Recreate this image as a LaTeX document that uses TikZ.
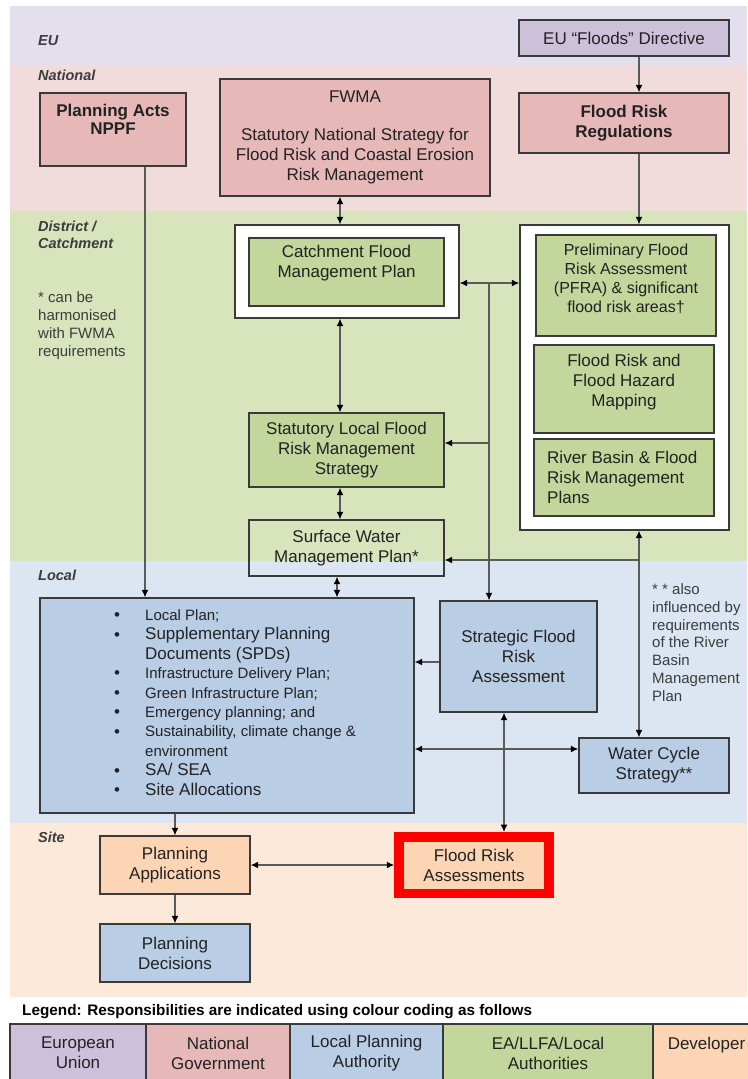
\documentclass[tikz,border=0pt]{standalone}
\usepackage{fontspec}
\setmainfont{Liberation Sans}
\usetikzlibrary{arrows.meta,calc}
\definecolor{euband}{HTML}{E4DFEC}
\definecolor{natband}{HTML}{F2DCDB}
\definecolor{distband}{HTML}{D8E4BC}
\definecolor{locband}{HTML}{DCE6F2}
\definecolor{siteband}{HTML}{FDE9D9}
\definecolor{eufill}{HTML}{CCC0DA}
\definecolor{natfill}{HTML}{E6B9B8}
\definecolor{grnfill}{HTML}{C3D69B}
\definecolor{blufill}{HTML}{B9CDE5}
\definecolor{pchfill}{HTML}{FCD5B5}
\definecolor{bordc}{HTML}{3A3A3A}
\definecolor{linec}{HTML}{5A5A5A}
\definecolor{txtc}{HTML}{222222}
\definecolor{lblc}{HTML}{3C3C3C}
\definecolor{hired}{HTML}{FF0000}
\newcommand\fmain{\fontsize{17}{20}\selectfont}
\newcommand\fpfra{\fontsize{16}{19}\selectfont}
\newcommand\fsmall{\fontsize{15}{19.45}\selectfont}
\newcommand\fbig{\fontsize{17}{19.45}\selectfont}
\newcommand\flbl{\fontsize{14.5}{16.5}\selectfont\bfseries\itshape}
\newcommand\fnote{\fontsize{15}{17.8}\selectfont}
\newcommand\bul{\makebox[31pt][l]{\raisebox{-0.3pt}{\fontsize{17}{17}\selectfont\textbullet}}}
\begin{document}
\begin{tikzpicture}[x=1pt,y=-1pt,
  box/.style={draw=bordc, line width=1.4pt, inner sep=0pt, align=center, text=txtc, font=\fmain},
  txt/.style={inner sep=0pt, align=center, text=txtc, font=\fmain},
  lbl/.style={inner sep=0pt, anchor=west, align=left, text=lblc, font=\flbl},
  note/.style={inner sep=0pt, anchor=west, align=left, text=lblc, font=\fnote},
  arr/.style={draw=linec, line width=1.2pt, -{Latex[length=7.5pt,width=7pt,color=black]}},
  darr/.style={draw=linec, line width=1.2pt, {Latex[length=7.5pt,width=7pt,color=black]}-{Latex[length=7.5pt,width=7pt,color=black]}},
  cell/.style={draw=bordc, line width=1.2pt, inner sep=0pt, align=center, text=txtc, font=\fmain, minimum height=58pt}
]
\useasboundingbox (0,0) rectangle (747,1079);
% bands
\fill[euband] (10,6) rectangle (747,65);
\fill[natband] (10,65) rectangle (747,211);
\fill[distband] (10,211) rectangle (747,561);
\fill[locband] (10,561) rectangle (747,823);
\fill[siteband] (10,823) rectangle (747,997);
% band labels
\node[lbl] (lEU) at (38,41) {EU};
\node[lbl] (lNat) at (38,75) {National};
\node[lbl] (lDist) at (38,235) {District /\\Catchment};
\node[lbl] (lLoc) at (38,575) {Local};
\node[lbl] (lSite) at (38,837) {Site};
\node[note] (n1) at (38,325.5) {* can be\\harmonised\\with FWMA\\requirements};
\node[note] (n2) at (652,642.5) {* * also\\influenced by\\requirements\\of the River\\Basin\\Management\\Plan};
% EU / national
\node[box, fill=eufill, minimum width=210pt, minimum height=36pt] (eufd) at (624,38) {EU “Floods” Directive};
\node[box, fill=natfill, minimum width=146pt, minimum height=73pt] (pa) at (113,129.5) {};
\node[txt, font=\fontsize{17}{17.5}\selectfont\bfseries] (pat) at (113,119.5) {Planning Acts\\NPPF};
\node[box, fill=natfill, minimum width=270pt, minimum height=117pt] (fwma) at (355,137.5) {FWMA\\[18pt]Statutory National Strategy for\\Flood Risk and Coastal Erosion\\Risk Management};
\node[box, fill=natfill, minimum width=210pt, minimum height=60pt, font=\fmain\bfseries] (frr) at (624,123) {Flood Risk\\Regulations};
% district
\node[box, fill=white, minimum width=224pt, minimum height=93pt] (wc1) at (347,271.5) {};
\node[box, fill=grnfill, minimum width=195pt, minimum height=68pt] (cfmp) at (346.5,272) {};
\node[txt] (cfmpt) at (346.5,263) {Catchment Flood\\Management Plan};
\node[box, fill=white, minimum width=209pt, minimum height=305pt] (wc2) at (624.5,377.5) {};
\node[box, fill=grnfill, minimum width=180pt, minimum height=101pt] (pfra) at (626,285.5) {};
\node[txt, font=\fpfra] (pfrat) at (626,278.5) {Preliminary Flood\\Risk Assessment\\(PFRA) \& significant\\flood risk areas†};
\node[box, fill=grnfill, minimum width=180pt, minimum height=88pt] (frfhm) at (624,389) {};
\node[txt] (frfhmt) at (624,382) {Flood Risk and\\Flood Hazard\\Mapping};
\node[box, fill=grnfill, minimum width=180pt, minimum height=77pt] (rbfrmp) at (624,477.5) {};
\node[txt, anchor=west, align=left] (rbfrmpt) at (547,477) {River Basin \& Flood\\Risk Management\\Plans};
\node[box, fill=grnfill, minimum width=195pt, minimum height=74pt] (slfrms) at (346.5,450) {Statutory Local Flood\\Risk Management\\Strategy};
\node[box, minimum width=195pt, minimum height=56pt] (swmp) at (346.5,548) {Surface Water\\Management Plan*};
% local
\node[box, fill=blufill, minimum width=374pt, minimum height=215pt] (local) at (227,705.5) {};
\node[txt, anchor=west, align=left, font=\fsmall] (lst) at (114,702.5) {%
\bul Local Plan;\\
\bul{\fbig Supplementary Planning}\\
\hspace*{31pt}{\fbig Documents (SPDs)}\\
\bul Infrastructure Delivery Plan;\\
\bul Green Infrastructure Plan;\\
\bul Emergency planning; and\\
\bul Sustainability, climate change \&\\
\hspace*{31pt}environment\\
\bul{\fbig SA/ SEA}\\
\bul{\fbig Site Allocations}};
\node[box, fill=blufill, minimum width=157pt, minimum height=111pt] (sfra) at (518.5,656.5) {Strategic Flood\\Risk\\Assessment};
\node[box, fill=blufill, minimum width=150pt, minimum height=55pt] (wcs) at (654,765.5) {Water Cycle\\Strategy**};
% site
\node[box, fill=pchfill, minimum width=150pt, minimum height=58pt] (planapp) at (175,865) {Planning\\Applications};
\node[box, fill=blufill, minimum width=150pt, minimum height=58pt] (pdec) at (175,953) {Planning\\Decisions};
\node[box, draw=hired, line width=9.5pt, fill=pchfill, minimum width=150pt, minimum height=56.5pt] (fra) at (474,865) {Flood Risk\\Assessments};
% connector guides
\coordinate (cx1) at (639,0);
\coordinate (cx2) at (340,0);
\coordinate (cx3) at (489,0);
\coordinate (cx4) at (145,0);
\coordinate (cx5) at (175,0);
\coordinate (cx6) at (504,0);
\coordinate (cx7) at (337,0);
\coordinate (cy1) at (0,283);
\coordinate (cy2) at (0,443);
\coordinate (cy3) at (0,560);
\coordinate (cy4) at (0,662);
\coordinate (cy5) at (0,749);
\coordinate (cy6) at (0,865);
\coordinate (j1) at (cx3 |- cy1);
\coordinate (j2) at (cx3 |- cy2);
\coordinate (j3) at (cx1 |- cy3);
% connectors
\draw[arr] (eufd.south -| cx1) -- (frr.north -| cx1);
\draw[arr] (frr.south -| cx1) -- (wc2.north -| cx1);
\draw[darr] (fwma.south -| cx2) -- (wc1.north -| cx2);
\draw[darr] (wc1.south -| cx2) -- (slfrms.north -| cx2);
\draw[darr] (slfrms.south -| cx2) -- (swmp.north -| cx2);
\draw[darr] (swmp.south -| cx7) -- (local.north -| cx7);
\draw[darr] (wc1.east |- cy1) -- (wc2.west |- cy1);
\draw[arr] (j1) -- (sfra.north -| cx3);
\draw[arr] (j2) -- (slfrms.east |- cy2);
\draw[darr] (wc2.south -| cx1) -- (wcs.north -| cx1);
\draw[arr] (j3) -- (swmp.east |- cy3);
\draw[arr] (pa.south -| cx4) -- (local.north -| cx4);
\draw[arr] (sfra.west |- cy4) -- (local.east |- cy4);
\draw[darr] (local.east |- cy5) -- (wcs.west |- cy5);
\draw[darr] (sfra.south -| cx6) -- (fra.north -| cx6);
\draw[arr] (local.south -| cx5) -- (planapp.north -| cx5);
\draw[darr] (planapp.east |- cy6) -- (fra.west |- cy6);
\draw[arr] (planapp.south -| cx5) -- (pdec.north -| cx5);
% legend
\node[inner sep=0pt, anchor=west, text=black, font=\fontsize{15.3}{17}\selectfont\bfseries] (legt) at (22,1012) {Legend: Responsibilities are indicated using colour coding as follows};
\node[cell, fill=eufill, minimum width=136pt] (leu) at (78,1053) {European\\Union};
\node[cell, fill=natfill, minimum width=144pt] (lng) at (218,1053) {National\\Government};
\node[cell, fill=blufill, minimum width=153pt] (llpa) at (366.5,1053) {Local Planning\\Authority};
\node[cell, fill=grnfill, minimum width=210pt] (lea) at (548,1053) {EA/LLFA/Local\\Authorities};
\node[cell, fill=pchfill, minimum width=107pt] (ldev) at (706.5,1053) {Developer\\\phantom{D}};
\end{tikzpicture}
\end{document}
